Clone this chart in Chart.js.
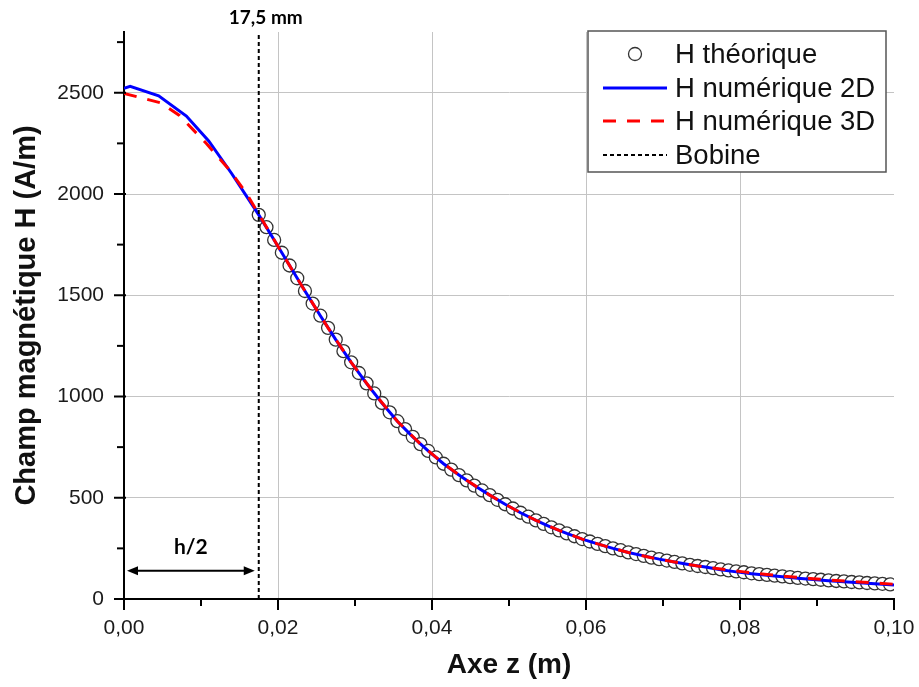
<!DOCTYPE html>
<html>
<head>
<meta charset="utf-8">
<script src="https://cdn.jsdelivr.net/npm/chart.js@4/dist/chart.umd.min.js"></script>
<style>
  html, body { margin: 0; padding: 0; background: #fff; }
</style>
</head>
<body>
<canvas id="chart" width="919" height="687"></canvas>
<script>
// H théorique (circles), z in m
const theoryZ = [
  0.0175, 0.0185, 0.0195, 0.0205, 0.0215, 0.0225, 0.0235, 0.0245, 0.0255, 0.0265,
  0.0275, 0.0285, 0.0295, 0.0305, 0.0315, 0.0325, 0.0335, 0.0345, 0.0355, 0.0365,
  0.0375, 0.0385, 0.0395, 0.0405, 0.0415, 0.0425, 0.0435, 0.0445, 0.0455, 0.0465,
  0.0475, 0.0485, 0.0495, 0.0505, 0.0515, 0.0525, 0.0535, 0.0545, 0.0555, 0.0565,
  0.0575, 0.0585, 0.0595, 0.0605, 0.0615, 0.0625, 0.0635, 0.0645, 0.0655, 0.0665,
  0.0675, 0.0685, 0.0695, 0.0705, 0.0715, 0.0725, 0.0735, 0.0745, 0.0755, 0.0765,
  0.0775, 0.0785, 0.0795, 0.0805, 0.0815, 0.0825, 0.0835, 0.0845, 0.0855, 0.0865,
  0.0875, 0.0885, 0.0895, 0.0905, 0.0915, 0.0925, 0.0935, 0.0945, 0.0955, 0.0965,
  0.0975, 0.0985, 0.0995
];
const theoryH = [
  1897, 1836, 1773, 1710, 1647, 1584, 1521, 1459, 1399, 1339,
  1281, 1224, 1169, 1116, 1065, 1015, 968, 922, 878, 839,
  801, 765, 731, 699, 668, 639, 612, 586, 560, 536,
  513, 490, 468, 447, 426, 407, 388, 371, 354, 339,
  324, 310, 296, 284, 272, 261, 250, 241, 230, 222,
  213, 204, 197, 190, 183, 176, 169, 163, 158, 152,
  146, 141, 136, 132, 127, 123, 119, 115, 112, 108,
  104, 101, 98, 95, 92, 89, 87, 84, 82, 79,
  77, 75, 72
];

// H numérique 2D
const num2dZ = [
  0, 0.0008, 0.0045, 0.0081, 0.0110, 0.0140, 0.0175,
  0.0195, 0.0215, 0.0235, 0.0255, 0.0275, 0.0295, 0.0315, 0.0335, 0.0355, 0.0375,
  0.0395, 0.0415, 0.0435, 0.0455, 0.0475, 0.0495, 0.0515, 0.0535, 0.0555, 0.0575,
  0.0595, 0.0615, 0.0635, 0.0655, 0.0675, 0.0695, 0.0715, 0.0735, 0.0755, 0.0775,
  0.0795, 0.0815, 0.0835, 0.0855, 0.0875, 0.0895, 0.0915, 0.0935, 0.0955, 0.0975,
  0.1000
];
const num2dH = [
  2522, 2532, 2485, 2385, 2262, 2100, 1897,
  1773, 1647, 1521, 1399, 1281, 1169, 1065, 968, 878, 801,
  731, 668, 612, 560, 513, 468, 426, 388, 354, 324,
  296, 272, 250, 230, 213, 197, 183, 169, 158, 144,
  134, 125, 117, 110, 102, 96, 90, 85, 80, 75,
  69
];

// H numérique 3D
const num3dZ = [
  0, 0.0048, 0.0072, 0.0107, 0.0137, 0.0159, 0.0175,
  0.0205, 0.0235, 0.0265, 0.0295, 0.0325, 0.0355, 0.0385, 0.0415, 0.0445, 0.0475,
  0.0505, 0.0535, 0.0565, 0.0595, 0.0625, 0.0655, 0.0685, 0.0715, 0.0745, 0.0775,
  0.0805, 0.0835, 0.0865, 0.0895, 0.0925, 0.0955, 0.0985,
  0.1000
];
const num3dH = [
  2497, 2450, 2388, 2249, 2118, 2003, 1900,
  1710, 1521, 1339, 1169, 1015, 878, 765, 668, 586, 513,
  447, 388, 339, 296, 261, 230, 204, 183, 163, 148,
  134, 121, 110, 100, 91, 84, 77,
  73
];

// Bobine (h/2 = 17,5 mm)
const bobineZ = 0.0175;
const bobineH = [0, 2800];
const arrowH = 140;
const halfLabelH = 255;

// graduations (grandes + petites)
const xTicks = [0, 0.01, 0.02, 0.03, 0.04, 0.05, 0.06, 0.07, 0.08, 0.09, 0.1];
const yTicks = [0, 250, 500, 750, 1000, 1250, 1500, 1750, 2000, 2250, 2500, 2750];
const xMin = 0, xMax = 0.1;
const yMin = 0, yMax = 2800;

const FONT = "'Liberation Sans', Arial, sans-serif";

const pts = (zs, hs) => zs.map((z, i) => ({ x: z, y: hs[i] }));

const isMajorX = v => Math.round(v * 100) % 2 === 0;
const isMajorY = v => Math.round(v) % 500 === 0;

// petites et grandes graduations
const tickMarks = {
  id: "tickMarks",
  afterDraw(chart) {
    const { ctx, chartArea: a, scales: { x, y } } = chart;
    ctx.save();
    ctx.strokeStyle = "#000";
    ctx.lineWidth = 2;
    x.ticks.forEach(t => {
      const px = x.getPixelForValue(t.value);
      ctx.beginPath();
      ctx.moveTo(px, a.bottom);
      ctx.lineTo(px, a.bottom + (isMajorX(t.value) ? 11 : 7));
      ctx.stroke();
    });
    y.ticks.forEach(t => {
      const py = y.getPixelForValue(t.value);
      ctx.beginPath();
      ctx.moveTo(a.left + (isMajorY(t.value) ? 2 : 0), py);
      ctx.lineTo(a.left - (isMajorY(t.value) ? 10 : 7), py);
      ctx.stroke();
    });
    ctx.restore();
  }
};

// 17,5 mm, flèche h/2
const annotations = {
  id: "annotations",
  afterDatasetsDraw(chart) {
    const { ctx, scales: { x, y } } = chart;
    const xb = x.getPixelForValue(bobineZ);
    const x0 = x.getPixelForValue(0) + 3;
    const x1 = xb - 4;
    const ya = y.getPixelForValue(arrowH);
    ctx.save();
    ctx.fillStyle = "#000";
    ctx.strokeStyle = "#000";
    ctx.textAlign = "center";
    ctx.textBaseline = "middle";
    ctx.font = "bold 19px Lato, sans-serif";
    ctx.fillText("17,5 mm", xb + 7, 18);
    ctx.font = "bold 21px Lato, sans-serif";
    ctx.fillText("h/2", (x0 + x1) / 2, y.getPixelForValue(halfLabelH));

    ctx.lineWidth = 2;
    ctx.beginPath();
    ctx.moveTo(x0 + 4, ya);
    ctx.lineTo(x1 - 4, ya);
    ctx.stroke();
    const head = (tip, dir) => {
      ctx.beginPath();
      ctx.moveTo(tip, ya);
      ctx.lineTo(tip - dir * 11, ya - 4.5);
      ctx.lineTo(tip - dir * 11, ya + 4.5);
      ctx.closePath();
      ctx.fill();
    };
    head(x0, -1);
    head(x1, 1);
    ctx.restore();
  }
};

// légende encadrée
const boxLegend = {
  id: "boxLegend",
  afterDraw(chart) {
    const { ctx, chartArea: a } = chart;
    const left = a.right - 306, top = a.top - 1, w = 298, h = 141;
    ctx.save();
    ctx.fillStyle = "#fff";
    ctx.fillRect(left, top, w, h);
    ctx.strokeStyle = "#555";
    ctx.lineWidth = 1.5;
    ctx.strokeRect(left, top, w, h);

    const rows = [top + 23, top + 57, top + 90, top + 124];
    const s0 = left + 15, s1 = left + 79;
    const ds = chart.data.datasets;

    // cercle
    ctx.beginPath();
    ctx.arc((s0 + s1) / 2, rows[0], 6.5, 0, Math.PI * 2);
    ctx.fillStyle = "#fff";
    ctx.fill();
    ctx.strokeStyle = "#333";
    ctx.lineWidth = 1.3;
    ctx.stroke();

    const sample = (i, y) => {
      const d = ds[i];
      ctx.beginPath();
      ctx.strokeStyle = d.borderColor;
      ctx.lineWidth = d.borderWidth;
      ctx.setLineDash(d.borderDash || []);
      ctx.moveTo(s0, y);
      ctx.lineTo(s1, y);
      ctx.stroke();
      ctx.setLineDash([]);
    };
    sample(1, rows[1]);
    sample(2, rows[2]);
    sample(3, rows[3]);

    ctx.fillStyle = "#111";
    ctx.font = "27.5px " + FONT;
    ctx.textAlign = "left";
    ctx.textBaseline = "middle";
    ds.forEach((d, i) => ctx.fillText(d.label, left + 87, rows[i] + 1));
    ctx.restore();
  }
};

new Chart(document.getElementById("chart"), {
  type: "scatter",
  data: {
    datasets: [
      {
        label: "H théorique",
        data: pts(theoryZ, theoryH),
        showLine: false,
        pointStyle: "circle",
        pointRadius: 6.5,
        pointBorderWidth: 1.3,
        pointBorderColor: "#333",
        pointBackgroundColor: "#fff",
        order: 3
      },
      {
        label: "H numérique 2D",
        data: pts(num2dZ, num2dH),
        showLine: true,
        borderColor: "#0000ff",
        borderWidth: 3,
        pointRadius: 0,
        order: 2
      },
      {
        label: "H numérique 3D",
        data: pts(num3dZ, num3dH),
        showLine: true,
        borderColor: "#ff0000",
        borderWidth: 3,
        borderDash: [13, 11],
        pointRadius: 0,
        order: 1
      },
      {
        label: "Bobine",
        data: bobineH.map(h => ({ x: bobineZ, y: h })),
        showLine: true,
        borderColor: "#000",
        borderWidth: 2,
        borderDash: [4, 3],
        pointRadius: 0,
        order: 0
      }
    ]
  },
  options: {
    responsive: false,
    animation: false,
    layout: { padding: { top: 32, right: 25, left: 0, bottom: 0 } },
    plugins: {
      legend: { display: false },
      tooltip: { enabled: false }
    },
    scales: {
      x: {
        type: "linear",
        min: xMin,
        max: xMax,
        border: { display: true, color: "#000", width: 2 },
        grid: {
          drawTicks: false,
          lineWidth: 1,
          color: c => {
            if (!c.tick) return "transparent";
            const n = Math.round(c.tick.value * 100);
            return n % 2 === 0 && n > 0 && n < 10 ? "#c4c4c4" : "transparent";
          }
        },
        afterBuildTicks: s => { s.ticks = xTicks.map(v => ({ value: v })); },
        ticks: {
          autoSkip: false,
          maxRotation: 0,
          padding: 17,
          color: "#1a1a1a",
          font: { family: FONT, size: 21 },
          callback: v => isMajorX(v) ? (Math.round(v * 100) / 100).toFixed(2).replace(".", ",") : ""
        },
        title: {
          display: true,
          text: "Axe z (m)",
          color: "#111",
          font: { family: FONT, size: 28, weight: "bold" },
          padding: { top: 0, bottom: 5 }
        },
        afterFit: s => { s.height = 88; s.paddingLeft = 0; s.paddingRight = 0; }
      },
      y: {
        type: "linear",
        min: yMin,
        max: yMax,
        border: { display: true, color: "#000", width: 2 },
        grid: {
          drawTicks: false,
          lineWidth: 1,
          color: c => {
            if (!c.tick) return "transparent";
            const v = c.tick.value;
            return isMajorY(v) && v > 0 ? "#c4c4c4" : "transparent";
          }
        },
        afterBuildTicks: s => { s.ticks = yTicks.map(v => ({ value: v })); },
        ticks: {
          autoSkip: false,
          padding: 20,
          color: "#1a1a1a",
          font: { family: FONT, size: 21 },
          callback: v => isMajorY(v) ? String(v) : ""
        },
        title: {
          display: true,
          text: "Champ magnétique H (A/m)",
          color: "#111",
          font: { family: FONT, size: 29, weight: "bold" },
          padding: { top: 10, bottom: 0 }
        },
        afterFit: s => { s.width = 124; s.paddingTop = 0; s.paddingBottom = 0; }
      }
    }
  },
  plugins: [tickMarks, annotations, boxLegend]
});
</script>
</body>
</html>
